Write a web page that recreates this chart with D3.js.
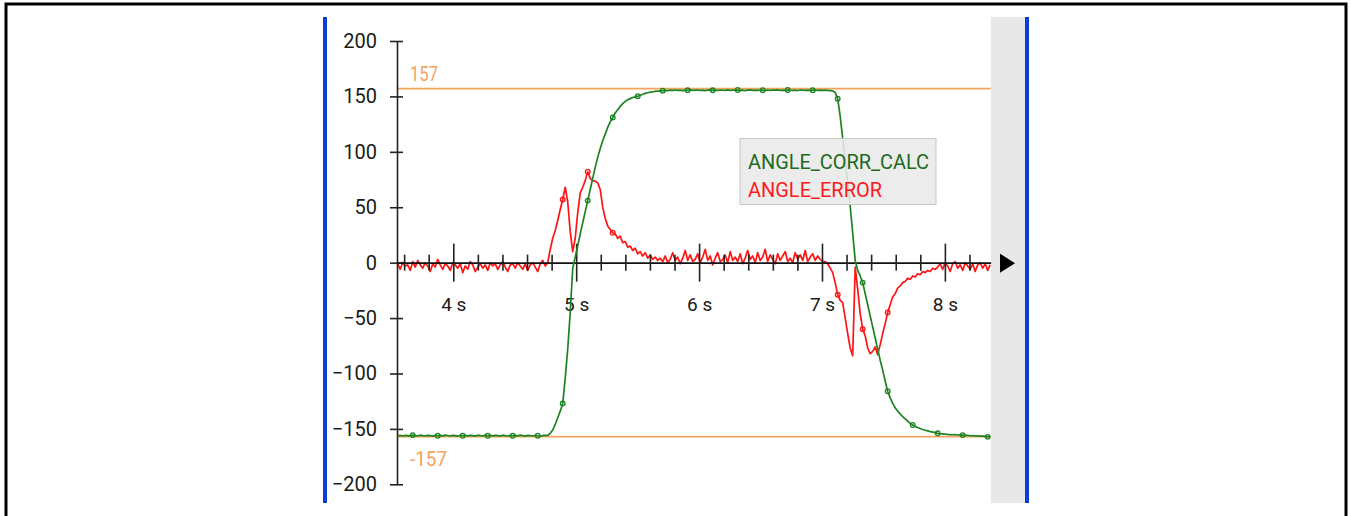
<!DOCTYPE html>
<html>
<head>
<meta charset="utf-8">
<script src="https://cdn.jsdelivr.net/npm/d3@7"></script>
<style>
  html, body { margin: 0; padding: 0; background: #fff; }
  svg { display: block; font-family: Roboto, "Noto Sans", sans-serif; }
</style>
</head>
<body>
<svg id="chart" width="1351" height="516"></svg>
<script>
// ---- data -------------------------------------------------------------
const seriesNames = ["ANGLE_CORR_CALC", "ANGLE_ERROR"];

// regular sampling of both signals (seconds)
const sampleStart = 3.548;
const samplePeriod = 0.02034;
const markerOffset = 6;   // first sample carrying a marker
const markerEvery = 10;   // one marker every N samples
const errorMarkerMin = 25; // error markers only on significant deviations

const angleCorrCalc = [
  -156.2, -155.8, -156.4, -155.9, -156.1, -156.5, -155.6, -156.0, -156.3, -155.7,
  -156.1, -156.4, -155.8, -156.0, -156.5, -155.7, -156.2, -155.9, -156.3, -155.6,
  -156.0, -156.4, -155.8, -156.1, -156.6, -155.7, -156.2, -155.9, -156.3, -155.8,
  -156.1, -156.5, -155.7, -156.0, -156.4, -155.6, -156.2, -155.9, -156.3, -155.8,
  -156.0, -156.5, -155.7, -156.1, -156.4, -155.8, -156.2, -155.9, -156.3, -155.6,
  -156.1, -156.5, -155.8, -156.0, -156.4, -155.7, -156.2, -156.6, -156.0, -155.8,
  -155.9,
  -154, -151, -146, -140, -134, -127, -104, -78, -45, -5,
  5, 15, 26, 36, 46, 56, 66, 76, 86, 95,
  103, 110, 116, 122, 127, 131, 135, 138, 141, 143.5,
  145.5, 147, 148, 149, 149.6, 150.2, 151, 152, 152.7, 153.3,
  153.8, 154.2, 154.5, 154.8, 155,
  155.2, 155.5, 155.3, 155.7, 155.4, 155.8, 155.5, 155.6, 155.3, 155.7,
  155.5, 155.9, 155.4, 155.6, 155.8, 155.5, 155.7, 155.3, 155.6, 155.9,
  155.5, 155.7, 155.4, 155.8, 155.6, 155.5, 155.9, 155.4, 155.7, 155.6,
  155.8, 155.5, 155.7, 155.3, 155.6, 155.9, 155.5, 155.7, 155.4, 155.8,
  155.6, 155.5, 155.8, 155.4, 155.7, 155.6, 155.9, 155.5, 155.7, 155.4,
  155.8, 155.6, 155.5, 155.7, 155.3, 155.8, 155.6, 155.5, 155.7, 155.4,
  155.6, 155.8, 155.5, 155.6, 155.4, 155.7, 155.5, 155.3, 155.0, 153.5,
  148, 132, 112, 92, 72, 51, 27, 2, -7, -12,
  -18, -28, -38, -48, -58, -68, -78, -88, -97, -107,
  -116, -122, -127, -131, -134, -136.5, -139, -141, -143, -145,
  -146.5, -147.8, -148.8, -149.7, -150.5, -151.2, -151.8, -152.4, -152.9, -153.4,
  -154, -154.3, -154.5, -154.8, -155, -155.1, -155.3, -155.2, -155.5, -155.4,
  -155.6, -155.8, -155.9, -156.2, -156.1, -156.4, -156.3, -156.6, -156.5, -156.8,
  -157.2, -156.9
];

const angleError = [
  -1, -6, 0, -3, -2, -7, 1, -4, 2, -2,
  -5, 0, -3, -8, -1, -4, 3, -2, -6, -1,
  -3, -7, 0, -2, -5, -1, -9, -3, -6, 1,
  -2, -8, -4, -1, -5, -2, -7, 0, -3, -1,
  -6, -2, 1, -4, -8, -2, -1, -5, 0, -3,
  -6, -1, -7, -2, 0, -4, -8, -1, 2, -3,
  0, 12, 22, 29, 38, 48, 57, 68, 55, 28,
  10, 22, 45, 63, 68, 74, 82, 76, 74, 73.5,
  72, 66, 50, 40, 33, 30, 27, 26, 22, 24,
  18, 19, 14, 15, 11, 13, 8, 10, 6, 9,
  4, 7, 3, 5, 2, 4,
  1, 6, 0, 3, 9, 2, 5, -1, 4, 11,
  2, 7, 1, 3, 8, 0, 5, 12, 2, 6,
  -2, 4, 9, 1, 3, 7, 0, 10, 2, 5,
  1, 8, -1, 4, 11, 3, 6, 0, 9, 2,
  5, 12, 1, 7, 3, -1, 8, 2, 6, 10,
  1, 4, 0, 9, 3, 7, 2, 11, 1, 5,
  8, 2, 6, 3, 1,
  1, -1, -5, -9, -18, -29, -34, -36, -50,
  -64, -77, -84, -4, -24, -46, -60, -66, -77, -82,
  -80, -76, -83, -74, -64, -55, -45, -38, -31, -28,
  -23, -21, -18, -17, -14, -15, -12, -13, -10, -11,
  -8, -9, -7, -8, -5, -6, -4,
  -1, -6, 0, -3, -8, -1, 1, -5, -2, -7,
  0, -3, -6, -1, -8, -2, 0, -5, -1, -7, -2
];

const yTicks = [200, 150, 100, 50, 0, -50, -100, -150, -200];
const xMajorTicks = [4, 5, 6, 7, 8];
const limitValues = [157, -157];
const limitLabels = ["157", "-157"];

// ---- setup ------------------------------------------------------------
const svg = d3.select("#chart");
const x = d3.scaleLinear().domain([3.542, 8.372]).range([397, 990.6]);
const y = d3.scaleLinear().domain([-200, 200]).range([484.3, 41]);

const colors = { corr: "#1b8421", err: "#ff1414", limit: "#f5a25c", ink: "#1a1a1a" };

const toPoints = vals => vals.map((v, i) => ({ t: sampleStart + i * samplePeriod, v, i }));
const corrPts = toPoints(angleCorrCalc);
const errPts = toPoints(angleError);
const isMarker = d => d.i >= markerOffset && (d.i - markerOffset) % markerEvery === 0;

// outer frame
svg.append("rect").attr("x", 6).attr("y", 4).attr("width", 1340).attr("height", 530)
  .attr("fill", "none").attr("stroke", "#000").attr("stroke-width", 3);

// side bars and right panel
svg.append("rect").attr("x", 991).attr("y", 17).attr("width", 34).attr("height", 486).attr("fill", "#e8e8e8");
svg.append("rect").attr("x", 323).attr("y", 17).attr("width", 4).attr("height", 486).attr("fill", "#0b3dd8");
svg.append("rect").attr("x", 1025).attr("y", 17).attr("width", 4).attr("height", 486).attr("fill", "#0b3dd8");

// limit lines
const limits = svg.append("g");
limitValues.forEach((v, k) => {
  limits.append("line")
    .attr("x1", x.range()[0]).attr("x2", x.range()[1])
    .attr("y1", y(v)).attr("y2", y(v))
    .attr("stroke", colors.limit).attr("stroke-width", 1.6);
  limits.append("text")
    .attr("x", 410)
    .attr("y", v > 0 ? y(v) - 8 : y(v) + 29)
    .attr("fill", colors.limit)
    .attr("font-size", 20)
    .attr("textLength", v > 0 ? 28 : 37)
    .attr("lengthAdjust", "spacingAndGlyphs")
    .text(limitLabels[k]);
});

const line = d3.line().x(d => x(d.t)).y(d => y(d.v));

function drawSeries(pts, color, markerFilter) {
  const g = svg.append("g");
  g.append("path").datum(pts).attr("d", line)
    .attr("fill", "none").attr("stroke", color).attr("stroke-width", 1.7)
    .attr("stroke-linejoin", "round");
  g.selectAll("circle").data(pts.filter(markerFilter)).join("circle")
    .attr("cx", d => x(d.t)).attr("cy", d => y(d.v)).attr("r", 2.3)
    .attr("fill", "none").attr("stroke", color).attr("stroke-width", 1.3);
}

drawSeries(errPts, colors.err, d => isMarker(d) && Math.abs(d.v) >= errorMarkerMin);

// ---- axes -------------------------------------------------------------
const gy = svg.append("g").attr("transform", `translate(${x.range()[0]},0)`)
  .call(d3.axisLeft(y).tickValues(yTicks).tickSizeInner(7).tickSizeOuter(0).tickPadding(13));
gy.attr("font-family", null).attr("font-size", null);
gy.select(".domain").attr("stroke", "#222").attr("stroke-width", 1.6);
gy.selectAll(".tick line").attr("x1", 6).attr("stroke", "#222").attr("stroke-width", 1.6);
gy.selectAll(".tick text").attr("font-size", 20).attr("fill", colors.ink);

const x0 = y(0);
const minorTicks = d3.range(3.6, 8.3, 0.2).filter(t => t < 8.372 && !xMajorTicks.some(m => Math.abs(m - t) < 1e-6));

const gxMinor = svg.append("g").attr("transform", `translate(0,${x0})`)
  .call(d3.axisBottom(x).tickValues(minorTicks).tickSizeInner(8).tickSizeOuter(0).tickFormat(""));
gxMinor.select(".domain").attr("stroke", "#111").attr("stroke-width", 1.6);
gxMinor.selectAll(".tick line").attr("y1", -8).attr("stroke", "#222").attr("stroke-width", 1.6);

const gxMajor = svg.append("g").attr("transform", `translate(0,${x0})`)
  .call(d3.axisBottom(x).tickValues(xMajorTicks).tickSizeInner(19).tickSizeOuter(0).tickFormat(d => d + " s"));
gxMajor.attr("font-family", null).attr("font-size", null);
gxMajor.select(".domain").remove();
gxMajor.selectAll(".tick line").attr("y1", -19).attr("stroke", "#222").attr("stroke-width", 1.6);
gxMajor.selectAll(".tick text").attr("y", 48).attr("dy", 0).attr("font-size", 19).attr("fill", colors.ink);

// axis arrow
svg.append("path")
  .attr("d", `M1000,${x0 - 9}L1015,${x0 + 0.5}L1000,${x0 + 10}Z`)
  .attr("fill", "#000");

drawSeries(corrPts, colors.corr, isMarker);

// ---- legend -----------------------------------------------------------
const legend = svg.append("g").attr("transform", "translate(740,138.5)");
legend.append("rect").attr("width", 196).attr("height", 66)
  .attr("fill", "#e9e9e9").attr("fill-opacity", 0.88)
  .attr("stroke", "#c6c6c6").attr("stroke-width", 1);
const legendColors = ["#1d6a1d", "#ff1a1a"];
const legendWidths = [181, 134];
seriesNames.forEach((name, k) => {
  legend.append("text")
    .attr("x", 8).attr("y", 30 + k * 28.5)
    .attr("font-size", 21)
    .attr("fill", legendColors[k])
    .attr("textLength", legendWidths[k])
    .attr("lengthAdjust", "spacingAndGlyphs")
    .text(name);
});
</script>
</body>
</html>
